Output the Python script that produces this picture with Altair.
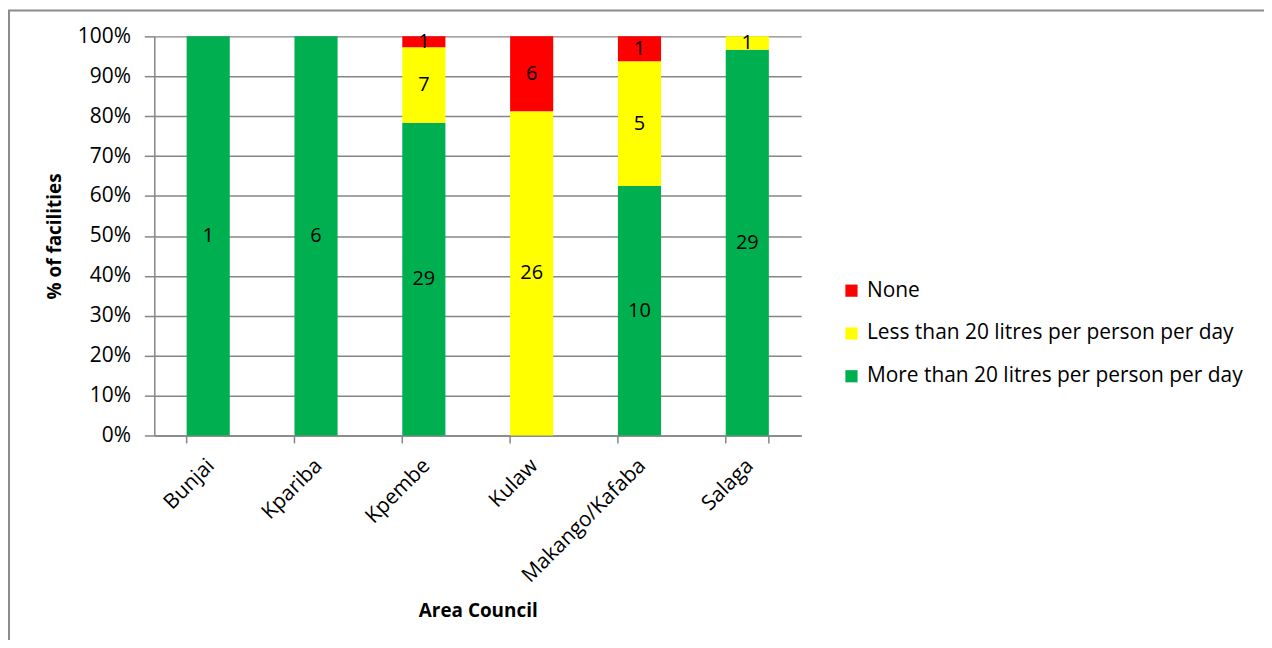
import altair as alt
import pandas as pd

# ---- data ----
councils = ["Bunjai", "Kpariba", "Kpembe", "Kulaw", "Makango/Kafaba", "Salaga"]
more_than_20 = [1, 6, 29, 0, 10, 29]
less_than_20 = [0, 0, 7, 26, 5, 1]
none_counts = [0, 0, 1, 6, 1, 0]

series_names = [
    "None",
    "Less than 20 litres per person per day",
    "More than 20 litres per person per day",
]
series_colors = ["#FF0000", "#FFFF00", "#00B050"]
y_tick_values = [0, 0.1, 0.2, 0.3, 0.4, 0.5, 0.6, 0.7, 0.8, 0.9, 1.0]

rows = []
for i, c in enumerate(councils):
    for name, vals, order in [
        (series_names[2], more_than_20, 0),
        (series_names[1], less_than_20, 1),
        (series_names[0], none_counts, 2),
    ]:
        rows.append({"council": c, "series": name, "count": vals[i], "order": order})
df = pd.DataFrame(rows)
ticks_df = pd.DataFrame({"council": councils})

FONT = "Open Sans"
GRID = "#868686"
W, H = 650, 401

x_scale = alt.Scale(domain=councils, paddingInner=0.6, paddingOuter=0.3)
y_scale = alt.Scale(domain=[0, 1], nice=False)

x_axis = alt.Axis(
    title="Area Council", titleFontWeight="bold", titleFontSize=19, titleColor="black",
    titleY=176, titleBaseline="middle",
    labelAngle=-45, labelAlign="right", labelBaseline="middle",
    labelFontSize=21, labelColor="black", labelOffset=3, labelPadding=27,
    ticks=False, grid=False, domainColor=GRID, domainWidth=1.5,
)
y_axis = alt.Axis(
    title="% of facilities", titleFontWeight="bold", titleFontSize=19, titleColor="black",
    titleX=-100, titleBaseline="middle",
    values=y_tick_values, format=".0%",
    labelFontSize=21, labelColor="black", labelPadding=14,
    tickSize=10, tickColor=GRID, tickWidth=1.5,
    grid=True, gridColor=GRID, gridWidth=1.5, domainColor=GRID, domainWidth=1.5,
)

base = (
    alt.Chart(df)
    .transform_filter("datum.count > 0")
    .transform_joinaggregate(total="sum(count)", groupby=["council"])
    .transform_stack(
        stack="count", groupby=["council"], as_=["c0", "c1"],
        sort=[alt.SortField("order", order="ascending")],
    )
    .transform_calculate(
        p0="datum.c0 / datum.total",
        p1="datum.c1 / datum.total",
        pm="(datum.c0 + datum.c1) / 2 / datum.total",
    )
)

bars = base.mark_bar().encode(
    x=alt.X("council:N", scale=x_scale, axis=x_axis, sort=councils),
    y=alt.Y("p0:Q", scale=y_scale, axis=y_axis),
    y2="p1:Q",
    color=alt.Color(
        "series:N",
        scale=alt.Scale(domain=series_names, range=series_colors),
        legend=alt.Legend(
            title=None, orient="none", legendX=690, legendY=245,
            symbolType="square", symbolSize=150, symbolStrokeWidth=0,
            labelFontSize=21, labelColor="black", labelLimit=500,
            rowPadding=21, padding=0, labelOffset=5,
        ),
    ),
)

labels = base.mark_text(fontSize=20, color="black", baseline="middle", align="center").encode(
    x=alt.X("council:N", scale=x_scale, axis=x_axis, sort=councils),
    y=alt.Y("pm:Q", scale=y_scale, axis=y_axis),
    text="count:Q",
)

tick_left = alt.Chart(ticks_df).mark_rule(color=GRID, strokeWidth=1.5).encode(
    x=alt.X("council:N", scale=x_scale, sort=councils, bandPosition=0),
    y=alt.value(H), y2=alt.value(H + 8),
)
tick_right = (
    alt.Chart(ticks_df)
    .transform_filter(alt.datum.council == councils[-1])
    .mark_rule(color=GRID, strokeWidth=1.5)
    .encode(
        x=alt.X("council:N", scale=x_scale, sort=councils, bandPosition=1),
        y=alt.value(H), y2=alt.value(H + 8),
    )
)

frame = alt.Chart(alt.Data(values=[{}])).mark_rect(
    fillOpacity=0, stroke="#8c8c8c", strokeWidth=2
).encode(
    x=alt.value(-146), x2=alt.value(1300), y=alt.value(-26), y2=alt.value(800)
)

chart = (
    alt.layer(frame, bars, labels, tick_left, tick_right)
    .properties(
        width=W, height=H,
        autosize=alt.AutoSizeParams(type="none"),
        padding={"left": 147, "top": 27, "right": 465, "bottom": 204},
    )
    .configure(font=FONT)
    .configure_view(stroke="transparent")
)

chart.save("out.html", embed_options={"renderer": "svg", "actions": False})
